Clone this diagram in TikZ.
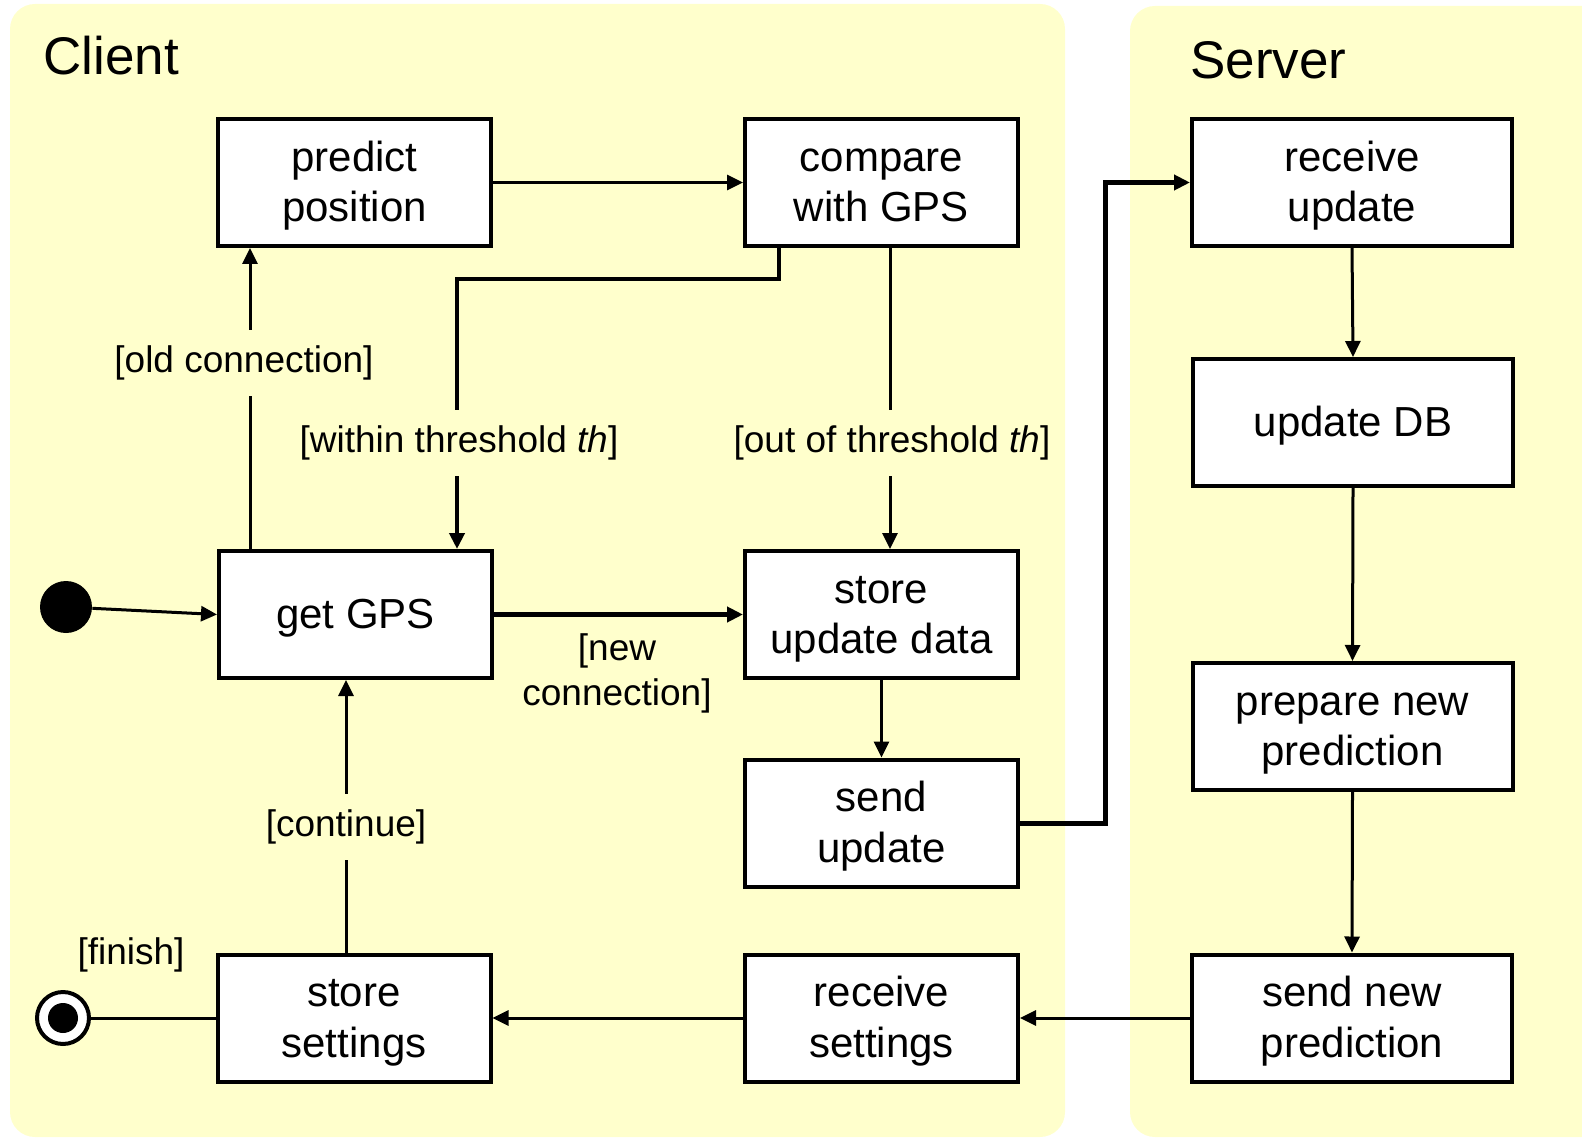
\documentclass[tikz,border=0pt]{standalone}
\usepackage{fontspec}
\setmainfont{Liberation Sans}
\usetikzlibrary{arrows.meta}
\definecolor{panel}{RGB}{255,255,204}
\newcommand\bt[1]{\raisebox{-2pt}[\height][\depth]{\begin{tabular}{@{}c@{}}#1\end{tabular}}}
\begin{document}
\begin{tikzpicture}[x=0.5pt,y=-0.5pt,
 box/.style={draw,line width=2pt,fill=white,minimum width=136.5pt,minimum height=63.5pt,align=center,font=\fontsize{21}{25.2}\selectfont,inner sep=0pt},
 sbox/.style={box,minimum width=160pt},
 lbl/.style={font=\fontsize{18.5}{22.5}\selectfont,align=center,inner sep=0pt},
 gap/.style={lbl,fill=panel,inner xsep=2pt,inner ysep=8pt},
 arr/.style={line width=1.5pt,-{Triangle[length=8pt,width=7.5pt]}},
 tarr/.style={arr,line width=2.5pt},
 marr/.style={arr,line width=2pt},
 title/.style={anchor=base west,inner sep=0pt,font=\fontsize{26.5}{30}\selectfont},
]
\useasboundingbox (0,0) rectangle (1582,1138);
\fill[panel,rounded corners=12.5pt] (10,4) rectangle (1065,1137);
\fill[panel,rounded corners=12.5pt] (1130,6) rectangle (1640,1137);

\node[title] (client) at (43,75) {Client};
\node[title] (server) at (1190,79) {Server};

\node[box] (predict) at (354.5,182.5) {\bt{predict\\position}};
\node[box] (compare) at (881.5,182.5) {\bt{compare\\with GPS}};
\node[box] (getgps) at (355.5,614.5) {\bt{get GPS}};
\node[box] (storeupd) at (881.5,614.5) {\bt{store\\update data}};
\node[box] (sendupd) at (881.5,823) {\bt{send\\update}};
\node[box] (storeset) at (354,1018) {\bt{store\\settings}};
\node[box] (recset) at (881.5,1018) {\bt{receive\\settings}};
\node[sbox] (recupd) at (1352,182.5) {\bt{receive\\update}};
\node[sbox] (updb) at (1353,422.5) {\bt{update DB}};
\node[sbox] (prep) at (1352.5,726.5) {\bt{prepare new\\prediction}};
\node[sbox] (sendnew) at (1352,1018) {\bt{send new\\prediction}};

\node[circle,fill=black,minimum size=26pt,inner sep=0pt] (init) at (66,607) {};
\node[circle,draw,line width=2pt,fill=white,minimum size=26pt,inner sep=0pt] (final) at (63,1018) {};
\fill (final) circle (7.5pt);

\coordinate (xold) at (250,0);
\coordinate (wa) at (779,0);
\coordinate (wb) at (457,279);
\coordinate (xo) at (890,0);
\coordinate (xk) at (1105,0);
\coordinate (xc) at (346,0);

\draw[arr] (getgps.north -| xold) -- (predict.south -| xold);
\draw[arr] (predict.east) -- (compare.west);
\draw[marr] (compare.south -| wa) |- (wb) -- (getgps.north -| wb);
\draw[arr] (compare.south -| xo) -- (storeupd.north -| xo);
\draw[tarr] (getgps.east) -- (storeupd.west);
\draw[arr] (storeupd.south) -- (sendupd.north);
\draw[tarr] (sendupd.east) -- (sendupd.east -| xk) |- (recupd.west);
\draw[arr] (recupd.south) -- (updb.north);
\draw[arr] (updb.south) -- (prep.north);
\draw[arr] (prep.south) -- (sendnew.north);
\draw[arr] (sendnew.west) -- (recset.east);
\draw[arr] (recset.west) -- (storeset.east);
\draw[arr] (storeset.north -| xc) -- (getgps.south -| xc);
\draw[arr] (init) -- (getgps.west);
\draw[line width=1.5pt] (storeset.west) -- (final);

\node[gap] (lold) at (244,363) {[old connection]};
\node[gap] (lwithin) at (459,443) {[within threshold \textit{th}]};
\node[gap] (lout) at (892,443) {[out of threshold \textit{th}]};
\node[lbl] (lnew) at (617,673) {[new\\connection]};
\node[gap] (lcont) at (346,827) {[continue]};
\node[lbl] (lfin) at (131,955) {[finish]};
\end{tikzpicture}
\end{document}
